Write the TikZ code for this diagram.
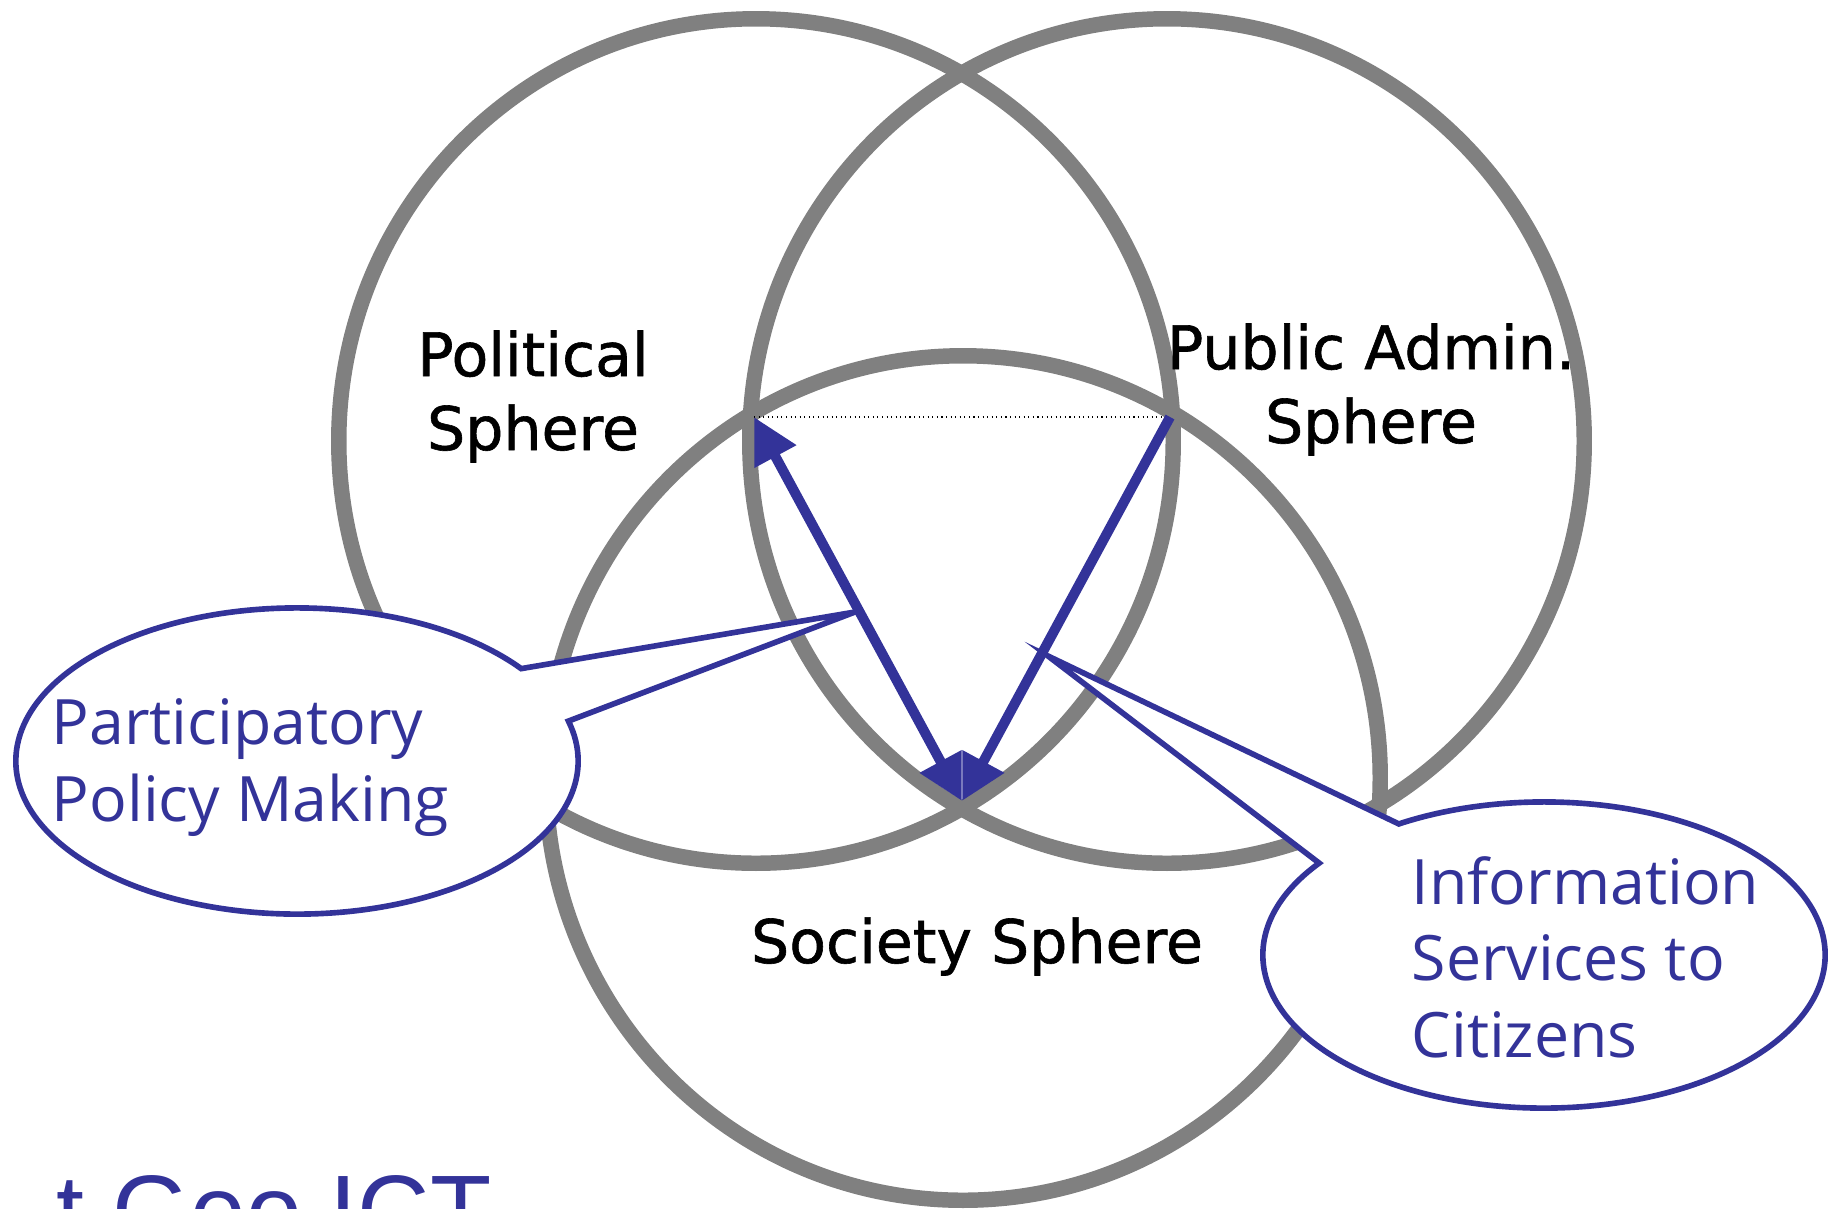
\documentclass[tikz,border=0pt]{standalone}
\usepackage{fontspec}
\setmainfont{DejaVu Sans}
\newfontface\spherefont{DejaVu Sans}[FakeBold=1]
\newfontfamily\callfont{Open Sans}
\newfontfamily\titlefont{Liberation Sans}
\usetikzlibrary{arrows.meta,shapes.callouts}
\definecolor{sgray}{HTML}{808080}
\definecolor{sblue}{HTML}{333399}
\tikzset{
  sphere/.style={draw=sgray, line width=4.4pt},
  callbox/.style={ellipse callout, draw=sblue, fill=white, line width=1.6pt,
    minimum width=5.62cm, minimum height=3.06cm, inner sep=0pt,
    callout pointer arc=22},
  link/.style={draw=sblue, line width=2.85pt},
  spheretext/.style={font=\spherefont\fontsize{17.1}{21}\selectfont, align=center,
    inner sep=0pt, anchor=base},
  calltext/.style={text=sblue, font=\callfont\fontsize{17.8}{21.7}\selectfont,
    align=left, inner sep=0pt, anchor=base west},
}

\begin{document}
\begin{tikzpicture}[x=0.01cm, y=-0.01cm, >={Triangle[length=0.45cm,width=0.45cm]}]
    \useasboundingbox (0,0) rectangle (1830,1208);
    \clip (0,0) rectangle (1830,1208);
    \draw[sphere] (756,441) ellipse [x radius=4.17cm, y radius=4.22cm];
    \draw[sphere] (1167,441) ellipse [x radius=4.17cm, y radius=4.22cm];
    \draw[sphere] (963,778) ellipse [x radius=4.17cm, y radius=4.22cm];

    \coordinate (pol) at (754,417);
    \coordinate (adm) at (1170,417);
    \coordinate (soc) at (962,801);
    \coordinate (ppmtip) at (855,612);
    \coordinate (infotip) at (1048,656);

    \node[callbox, callout absolute pointer={(ppmtip)}] (ppm) at (297,761) {};
    \node[callbox, callout absolute pointer={(infotip)}] (info) at (1544,955) {};

    \draw[densely dotted, line width=0.3pt] (pol) -- (adm);
    \draw[link, <->] (pol) -- (soc);
    \draw[link, ->] (adm) -- (soc);

    \node[spheretext] (poltext) at (533,450) {Political\\Sphere};
    \node[spheretext] (admtext) at (1371,443) {Public Admin.\\Sphere};
    \node[spheretext] (soctext) at (977,963) {Society Sphere};
    \node[calltext] (ppmtext) at (51,821) {Participatory\\Policy Making};
    \node[calltext] (infotext) at (1411,1057) {Information\\Services to\\Citizens};
    \node[text=sblue, font=\titlefont\fontsize{28.5}{34}\selectfont,
      anchor=base east, inner sep=0pt] (title) at (492,1245) {t Geo ICT};
\end{tikzpicture}
\end{document}
